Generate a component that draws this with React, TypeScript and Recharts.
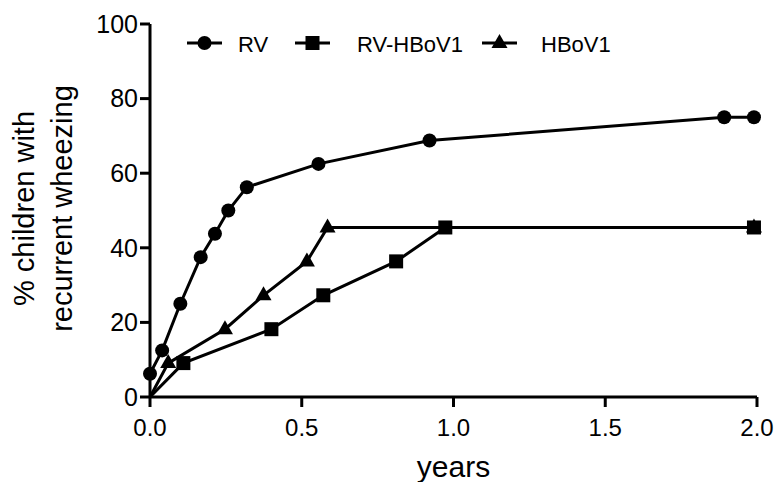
import { Line, LineChart, XAxis, YAxis } from "recharts";

// time since infection (years) and cumulative % with recurrent wheezing
const rvYears = [0, 0.04, 0.1, 0.167, 0.214, 0.258, 0.319, 0.555, 0.921, 1.892, 1.99];
const rvPct = [6.25, 12.5, 25, 37.5, 43.75, 50, 56.25, 62.5, 68.75, 75, 75];

const rvHbYears = [0, 0.11, 0.4, 0.571, 0.811, 0.973, 1.99];
const rvHbPct = [0, 9.09, 18.18, 27.27, 36.36, 45.45, 45.45];

const hbYears = [0, 0.06, 0.247, 0.374, 0.517, 0.585, 1.99];
const hbPct = [0, 9.09, 18.18, 27.27, 36.36, 45.45, 45.45];

const xTicks = [0, 0.5, 1, 1.5, 2];
const yTicks = [0, 20, 40, 60, 80, 100];

const seriesNames = ["RV", "RV-HBoV1", "HBoV1"];

const FONT = '"Liberation Sans", Arial, Helvetica, sans-serif';
const W = 774;
const H = 482;

const toPoints = (xs: number[], ys: number[]) =>
  xs.map((x, i) => ({ x, y: ys[i] }));

type Shape = "circle" | "square" | "triangle";

function Marker({ shape, cx, cy }: { shape: Shape; cx: number; cy: number }) {
  if (shape === "circle") return <circle cx={cx} cy={cy} r={7} fill="#000" />;
  if (shape === "square")
    return <rect x={cx - 7} y={cy - 7} width={14} height={14} fill="#000" />;
  return (
    <polygon
      points={`${cx},${cy - 9} ${cx - 8},${cy + 5} ${cx + 8},${cy + 5}`}
      fill="#000"
    />
  );
}

// origin point of the two HBoV1 curves is a line start only, no symbol
const dotFor = (shape: Shape, skipFirst = false) => (p: any) =>
  skipFirst && p.index === 0 ? (
    <g key={`${shape}-${p.index}`} />
  ) : (
    <Marker key={`${shape}-${p.index}`} shape={shape} cx={p.cx} cy={p.cy} />
  );

function LegendOverlay() {
  const items: { shape: Shape; x: number; textX: number }[] = [
    { shape: "circle", x: 195, textX: 238 },
    { shape: "square", x: 303, textX: 357 },
    { shape: "triangle", x: 490, textX: 541 },
  ];
  return (
    <svg
      width={W}
      height={80}
      style={{ position: "absolute", left: 0, top: 0, pointerEvents: "none" }}
    >
      {items.map((it, i) => (
        <g key={it.shape}>
          <line
            x1={it.x - 8}
            x2={it.x + 27}
            y1={43}
            y2={43}
            stroke="#000"
            strokeWidth={3}
          />
          <Marker shape={it.shape} cx={it.x + 9.5} cy={43} />
          <text x={it.textX} y={51.5} fontSize={22} fontFamily={FONT} fill="#000">
            {seriesNames[i]}
          </text>
        </g>
      ))}
    </svg>
  );
}

export default function App() {
  return (
    <div style={{ position: "relative", width: W, height: H }}>
      <style>{"body{margin:0}"}</style>
      <LineChart
        width={W}
        height={H}
        margin={{ top: 24, right: 17, bottom: 0, left: 0 }}
      >
        <XAxis
          type="number"
          dataKey="x"
          domain={[0, 2]}
          ticks={xTicks}
          tickFormatter={(v: number) => v.toFixed(1)}
          height={85}
          tickSize={10}
          tickMargin={12}
          axisLine={{ stroke: "#000", strokeWidth: 3 }}
          tickLine={{ stroke: "#000", strokeWidth: 3 }}
          tick={{ fill: "#000", fontSize: 24, fontFamily: FONT }}
          allowDuplicatedCategory={false}
          label={({ viewBox }: any) => (
            <text
              x={viewBox.x + viewBox.width / 2}
              y={viewBox.y + 80}
              textAnchor="middle"
              fontSize={30}
              fontFamily={FONT}
              fill="#000"
            >
              years
            </text>
          )}
        />
        <YAxis
          type="number"
          dataKey="y"
          domain={[0, 100]}
          ticks={yTicks}
          width={150}
          tickSize={10}
          axisLine={{ stroke: "#000", strokeWidth: 3 }}
          tickLine={{ stroke: "#000", strokeWidth: 3 }}
          tick={{ fill: "#000", fontSize: 25, fontFamily: FONT }}
          label={({ viewBox }: any) => {
            const cy = viewBox.y + viewBox.height / 2 - 2;
            return (
              <g>
                <text
                  x={24}
                  y={cy}
                  transform={`rotate(-90, 24, ${cy})`}
                  textAnchor="middle"
                  dominantBaseline="central"
                  fontSize={29}
                  fontFamily={FONT}
                  fill="#000"
                >
                  % children with
                </text>
                <text
                  x={62}
                  y={cy}
                  transform={`rotate(-90, 62, ${cy})`}
                  textAnchor="middle"
                  dominantBaseline="central"
                  fontSize={29}
                  fontFamily={FONT}
                  fill="#000"
                >
                  recurrent wheezing
                </text>
              </g>
            );
          }}
        />
        <Line
          data={toPoints(hbYears, hbPct)}
          dataKey="y"
          name={seriesNames[2]}
          stroke="#000"
          strokeWidth={3}
          dot={dotFor("triangle", true)}
          isAnimationActive={false}
        />
        <Line
          data={toPoints(rvHbYears, rvHbPct)}
          dataKey="y"
          name={seriesNames[1]}
          stroke="#000"
          strokeWidth={3}
          dot={dotFor("square", true)}
          isAnimationActive={false}
        />
        <Line
          data={toPoints(rvYears, rvPct)}
          dataKey="y"
          name={seriesNames[0]}
          stroke="#000"
          strokeWidth={3}
          dot={dotFor("circle")}
          isAnimationActive={false}
        />
      </LineChart>
      <LegendOverlay />
    </div>
  );
}
